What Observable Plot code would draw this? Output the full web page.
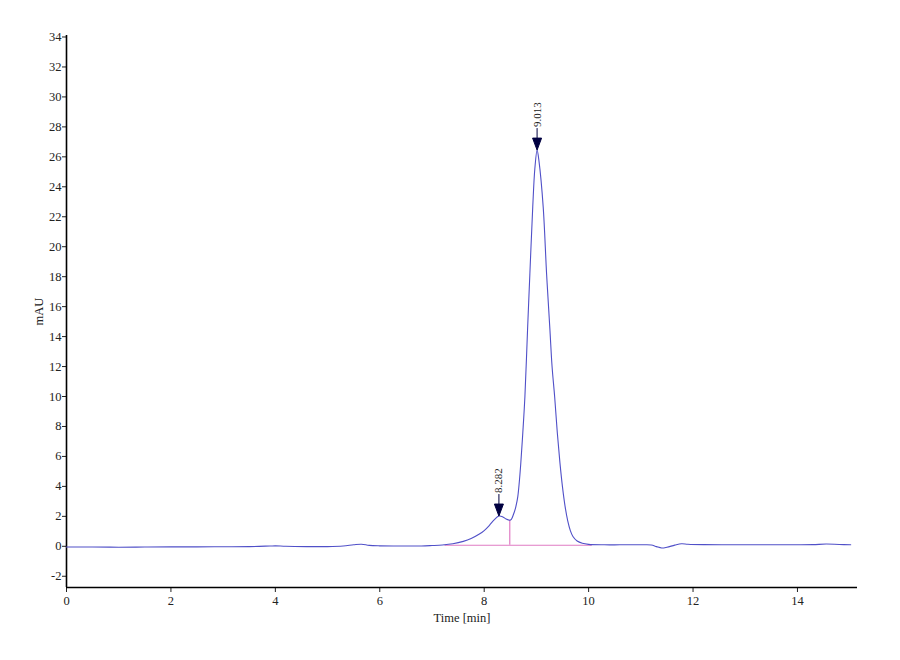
<!DOCTYPE html>
<html>
<head>
<meta charset="utf-8">
<script src="https://cdn.jsdelivr.net/npm/d3@7"></script>
<script src="https://cdn.jsdelivr.net/npm/@observablehq/plot@0.6"></script>
<style>
  html, body { margin: 0; padding: 0; background: #ffffff; }
  #chart { width: 900px; height: 660px; }
</style>
</head>
<body>
<div id="chart"></div>
<script>
// Chromatogram trace (time in min, absorbance in mAU)
const time = [0, 0.5, 1.0, 1.5, 2.0, 2.5, 3.0, 3.5, 3.9, 4.0, 4.2, 4.6, 5.0, 5.3, 5.5, 5.65, 5.8, 6.0, 6.5, 6.8,
  7.0, 7.2, 7.4, 7.6, 7.75, 7.9, 8.0, 8.1, 8.2, 8.282, 8.35, 8.42, 8.49, 8.52, 8.56, 8.60, 8.625, 8.645, 8.67, 8.70, 8.74, 8.78,
  8.83, 8.875, 8.93, 8.97, 9.013, 9.05, 9.13, 9.195, 9.26, 9.30, 9.35, 9.40, 9.45, 9.50, 9.55, 9.60, 9.65, 9.70, 9.78, 9.88, 10.0,
  10.3, 10.6, 11.0, 11.2, 11.3, 11.4, 11.5, 11.65, 11.78, 11.9, 12.2, 12.6, 13.0, 13.5, 14.0, 14.3, 14.55, 14.8, 15.02];
const mAU = [-0.05, -0.05, -0.06, -0.05, -0.04, -0.04, -0.03, -0.02, 0.02, 0.03, 0.0, -0.02, -0.02, 0.02, 0.10, 0.14, 0.06, 0.03, 0.02, 0.02,
  0.05, 0.09, 0.17, 0.33, 0.52, 0.80, 1.05, 1.40, 1.80, 2.02, 1.98, 1.82, 1.74, 1.80, 2.12, 2.55, 2.95, 3.35, 4.2, 5.5, 7.6, 10.0,
  14.4, 18.2, 22.66, 25.2, 26.45, 25.7, 22.66, 18.2, 14.4, 12.0, 9.97, 7.6, 5.6, 3.95, 2.65, 1.7, 1.05, 0.65, 0.35, 0.20, 0.13,
  0.10, 0.10, 0.10, 0.09, -0.02, -0.11, -0.06, 0.08, 0.17, 0.14, 0.11, 0.10, 0.10, 0.10, 0.10, 0.11, 0.15, 0.12, 0.10];

// Integrated peaks
const peakTimes = [8.282, 9.013];
const peakHeights = [2.02, 26.45];
const peakLabels = ["8.282", "9.013"];

// Integration baseline and peak split
const baselineTimes = [7.25, 10.05];
const baselineLevel = 0.07;
const splitTime = 8.49;
const splitHeight = 1.74;

// Axis ticks
const xTicks = [0, 2, 4, 6, 8, 10, 12, 14];
const yTicks = [-2, 0, 2, 4, 6, 8, 10, 12, 14, 16, 18, 20, 22, 24, 26, 28, 30, 32, 34];

const trace = time.map((t, i) => ({t, v: mAU[i]}));
const peaks = peakTimes.map((t, i) => ({t, v: peakHeights[i], label: peakLabels[i]}));
const baseline = baselineTimes.map(t => ({t, v: baselineLevel}));

const xDomain = [0, 15.15];
const yDomain = [-2.75, 34.1];

const arrowSymbol = {
  draw(ctx) {
    const w = 4.5, h = 12, stem = 10;
    ctx.moveTo(0, 0);
    ctx.lineTo(-w, -h);
    ctx.lineTo(w, -h);
    ctx.closePath();
    ctx.moveTo(0, -h);
    ctx.lineTo(0, -h - stem);
  }
};

const font = "'Liberation Serif', 'Times New Roman', serif";

const chart = Plot.plot({
  width: 900,
  height: 660,
  marginLeft: 66,
  marginRight: 43,
  marginTop: 35,
  marginBottom: 73,
  style: {fontFamily: font, fontSize: "12px", color: "#222", background: "#ffffff"},
  x: {domain: xDomain},
  y: {domain: yDomain},
  marks: [
    Plot.axisY({ticks: yTicks, tickFormat: d => String(d), tickSize: 4, tickPadding: 1, fontSize: 12.5,
      label: "mAU", labelAnchor: "center", labelArrow: "none", labelOffset: 32, fontFamily: font}),
    Plot.axisX({ticks: xTicks, tickFormat: d => String(d), tickSize: 5, tickPadding: 4, fontSize: 12.5,
      label: "Time [min]", labelAnchor: "center", labelArrow: "none", labelOffset: 34, fontFamily: font}),
    Plot.ruleX([0], {y1: yDomain[0], y2: yDomain[1], stroke: "#000", strokeWidth: 1.6}),
    Plot.ruleY([yDomain[0]], {x1: xDomain[0], x2: xDomain[1], stroke: "#000", strokeWidth: 1.6}),
    Plot.line(baseline, {x: "t", y: "v", stroke: "#e07cc4", strokeWidth: 1.2}),
    Plot.ruleX([splitTime], {y1: baselineLevel, y2: splitHeight, stroke: "#e07cc4", strokeWidth: 1.2}),
    Plot.line(trace, {x: "t", y: "v", stroke: "#5050c8", strokeWidth: 1.1, curve: "catmull-rom"}),
    Plot.dot(peaks, {x: "t", y: "v", symbol: arrowSymbol, r: 5, fill: "#000040", stroke: "#000040", strokeWidth: 1}),
    Plot.text(peaks, {x: "t", y: "v", text: "label", rotate: -90, textAnchor: "start", dy: -23,
      fontSize: 11, fill: "#222", fontFamily: font})
  ]
});
document.getElementById("chart").appendChild(chart);
</script>
</body>
</html>
